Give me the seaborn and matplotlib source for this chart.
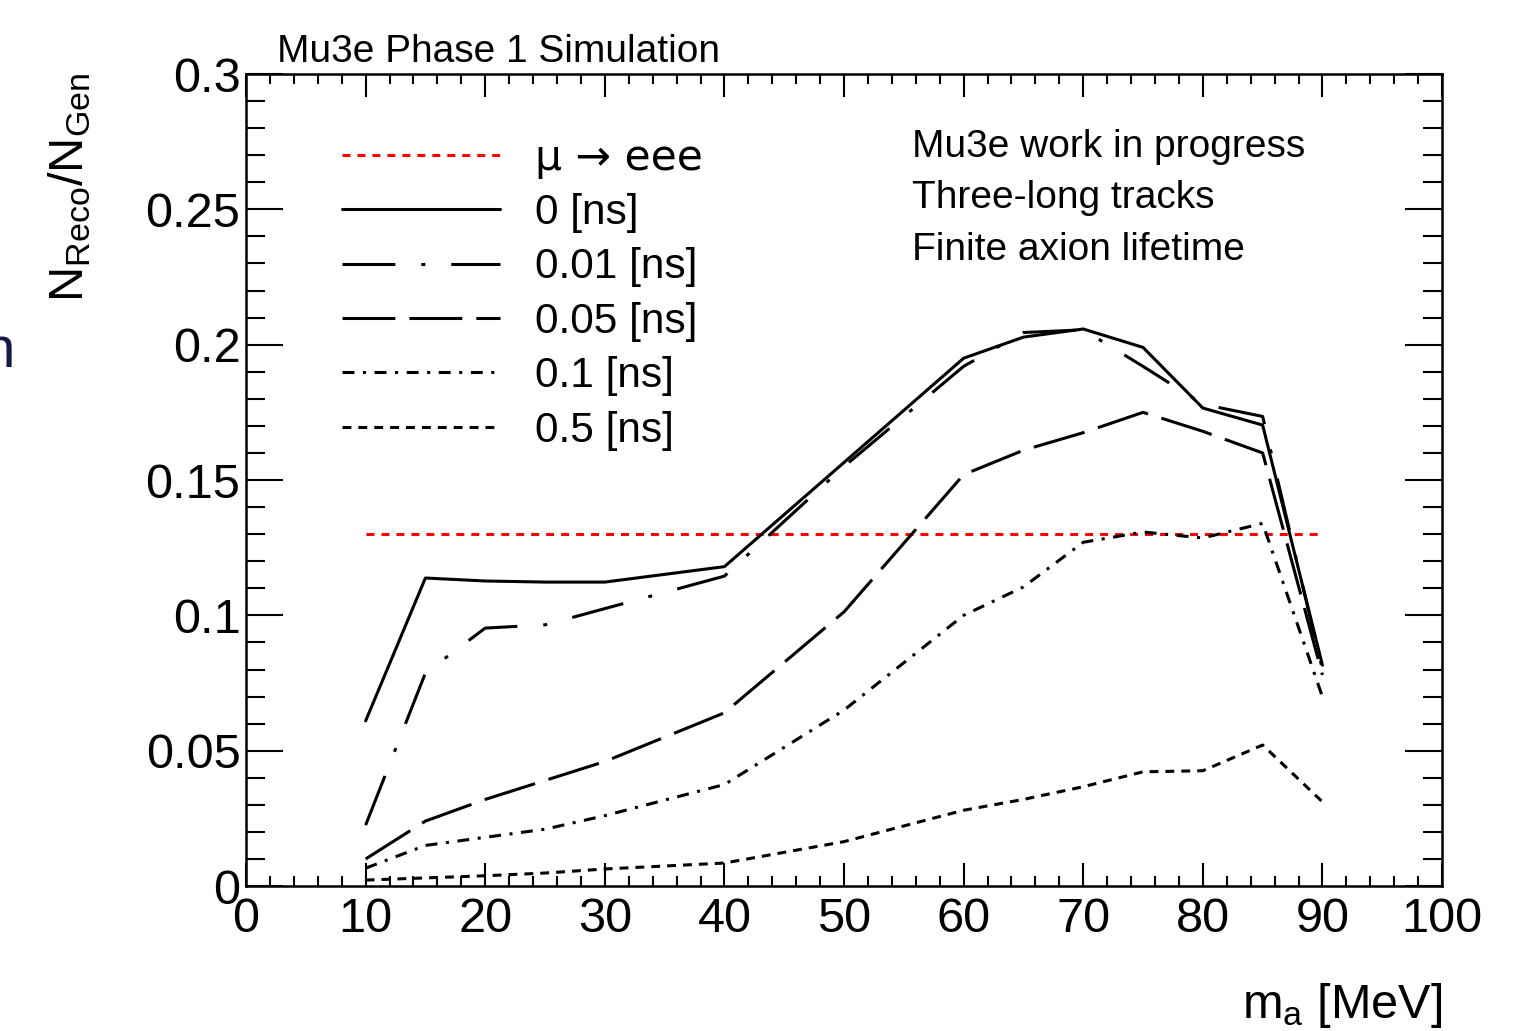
import numpy as np
import pandas as pd
import matplotlib
matplotlib.use('Agg')
import matplotlib.pyplot as plt
from matplotlib.ticker import MultipleLocator
import seaborn as sns

# data
mass = [10, 15, 20, 25, 30, 40, 50, 60, 65, 70, 75, 80, 85, 90]
eff_0ns = [0.061, 0.1138, 0.1127, 0.1123, 0.1123, 0.118, 0.1565, 0.195, 0.2028, 0.2058, 0.199, 0.1766, 0.1703, 0.0816]
eff_001ns = [0.0225, 0.0787, 0.0953, 0.0965, 0.1025, 0.1145, 0.155, 0.192, 0.2045, 0.2055, 0.192, 0.178, 0.1735, 0.080]
eff_005ns = [0.010, 0.024, 0.032, 0.039, 0.046, 0.064, 0.1013, 0.152, 0.161, 0.1675, 0.175, 0.168, 0.160, 0.078]
eff_01ns = [0.0066, 0.015, 0.018, 0.021, 0.026, 0.0375, 0.065, 0.100, 0.1105, 0.127, 0.1308, 0.1286, 0.134, 0.0699]
eff_05ns = [0.0022, 0.0030, 0.0038, 0.0048, 0.0063, 0.0085, 0.0164, 0.028, 0.032, 0.0367, 0.0422, 0.0426, 0.0521, 0.0311]

mu3e_x = [10, 90]
mu3e_y = [0.13, 0.13]

labels = ['μ → eee', '0 [ns]', '0.01 [ns]', '0.05 [ns]', '0.1 [ns]', '0.5 [ns]']
xticks = [0, 10, 20, 30, 40, 50, 60, 70, 80, 90, 100]
yticks = [0, 0.05, 0.1, 0.15, 0.2, 0.25, 0.3]
ytick_labels = ['0', '0.05', '0.1', '0.15', '0.2', '0.25', '0.3']

sns.set_style('ticks')
plt.rcParams['font.family'] = ['Liberation Sans', 'DejaVu Sans']
plt.rcParams['mathtext.fontset'] = 'custom'
plt.rcParams['mathtext.rm'] = 'Liberation Sans'
plt.rcParams['mathtext.it'] = 'Liberation Sans'
for key in ['text.color', 'axes.labelcolor', 'xtick.color', 'ytick.color', 'axes.edgecolor']:
    plt.rcParams[key] = 'black'

fig = plt.figure(figsize=(15.13, 10.31), dpi=100)
ax = fig.add_axes([0.1626, 0.1406, 0.7905, 0.7876])

lw = 2.2
sns.lineplot(x=mu3e_x, y=mu3e_y, ax=ax, color='#ff0000', lw=lw,
             linestyle=(0, (2.6, 2.3)), label=labels[0])
styles = ['-', (0, (17.3, 8.5, 1.3, 8.5)), (0, (17.3, 4.6)),
          (0, (3.9, 2.8, 1.0, 2.8)), (0, (2.9, 2.3))]
series = [eff_0ns, eff_001ns, eff_005ns, eff_01ns, eff_05ns]
for vals, ls, lab in zip(series, styles, labels[1:]):
    sns.lineplot(x=mass, y=vals, ax=ax, color='black', lw=lw,
                 linestyle=ls, label=lab)

ax.set_xlim(0, 100)
ax.set_ylim(0, 0.3)
ax.set_xticks(xticks)
ax.set_yticks(yticks)
ax.set_yticklabels(ytick_labels)
ax.xaxis.set_minor_locator(MultipleLocator(2))
ax.yaxis.set_minor_locator(MultipleLocator(0.01))
ax.tick_params(axis='both', which='both', direction='in', top=True, right=True,
               width=1.5, labelsize=35, color='black', labelcolor='black')
ax.tick_params(axis='x', which='major', length=16.5, pad=8)
ax.tick_params(axis='x', which='minor', length=7.5)
ax.tick_params(axis='y', which='major', length=26.5, pad=4)
ax.tick_params(axis='y', which='minor', length=13.5)
for sp in ax.spines.values():
    sp.set_linewidth(1.8)
    sp.set_color('black')
ax.set_xlabel('')
ax.set_ylabel('')

leg = ax.legend(loc='upper left', bbox_to_anchor=(0.0803, 0.923), frameon=False,
                fontsize=30.5, handlelength=3.73, handletextpad=0.83,
                labelspacing=0.34, borderaxespad=0, borderpad=0)
# wider arrow for the mu -> eee entry
leg.get_texts()[0].set_family(['DejaVu Sans'])

ax.text(0.557, 0.898, 'Mu3e work in progress', transform=ax.transAxes, fontsize=28)
ax.text(0.557, 0.835, 'Three-long tracks', transform=ax.transAxes, fontsize=28)
ax.text(0.557, 0.771, 'Finite axion lifetime', transform=ax.transAxes, fontsize=28)

fig.text(0.1831, 0.9399, 'Mu3e Phase 1 Simulation', fontsize=28, va='baseline')
fig.text(0.046, 0.930, r'$\mathregular{N_{Reco}/N_{Gen}}$', rotation=90,
         fontsize=35, ha='center', va='top')
fig.text(0.953, 0.0126, r'$\mathregular{m_{a}}$ [MeV]', fontsize=35,
         ha='right', va='baseline')
fig.text(-0.012, 0.644, 'n', fontsize=42, color='#151a45', va='baseline')

fig.savefig('out.png', dpi=100)
